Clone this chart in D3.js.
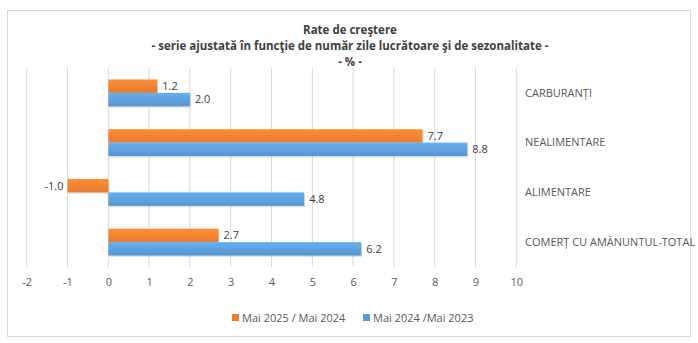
<!DOCTYPE html>
<html>
<head>
<meta charset="utf-8">
<script src="https://cdn.jsdelivr.net/npm/d3@7"></script>
<style>
  body { margin: 0; background: #fff; }
  svg { font-family: "Open Sans", "Liberation Sans", sans-serif; }
</style>
</head>
<body>
<div id="chart"></div>
<script>
const categories = ["CARBURANȚI", "NEALIMENTARE", "ALIMENTARE", "COMERȚ CU AMĂNUNTUL-TOTAL"];
const seriesNames = ["Mai 2025 / Mai 2024", "Mai 2024 /Mai 2023"];
const values2025 = [1.2, 7.7, -1.0, 2.7];
const values2024 = [2.0, 8.8, 4.8, 6.2];
const xTicks = [-2, -1, 0, 1, 2, 3, 4, 5, 6, 7, 8, 9, 10];
const titleLines = [
    "Rate de creştere",
    "- serie ajustată în funcţie de număr zile lucrătoare şi de sezonalitate -",
    "- % -"
];

const W = 698, H = 343;
const plot = { left: 26.7, right: 516.3, top: 68, bottom: 267 };
const colors = ["#ED7D31", "#5B9BD5"];

// excel style: plain hyphen for negatives
const fmtTick = d => String(d);
const fmtVal = d => d.toFixed(1);

const svg = d3.select("#chart").append("svg")
    .attr("width", W)
    .attr("height", H);

const defs = svg.append("defs");
colors.forEach((c, i) => {
    const g = defs.append("linearGradient")
        .attr("id", "grad" + i)
        .attr("x1", 0).attr("y1", 0).attr("x2", 0).attr("y2", 1);
    g.append("stop").attr("offset", "0%").attr("stop-color", d3.color(c).brighter(0.35));
    g.append("stop").attr("offset", "100%").attr("stop-color", d3.color(c).darker(0.1));
});

// chart border
svg.append("rect")
    .attr("x", 7.5).attr("y", 10.5)
    .attr("width", 683).attr("height", 326)
    .attr("fill", "#fff")
    .attr("stroke", "#d9d9d9");

// title
svg.selectAll(".title")
    .data(titleLines)
    .enter().append("text")
    .attr("class", "title")
    .attr("x", 350)
    .attr("y", (d, i) => 34 + i * 16)
    .attr("text-anchor", "middle")
    .style("font-size", "11.5px")
    .style("font-weight", "bold")
    .attr("fill", "#404040")
    .text(d => d);

const x = d3.scaleLinear()
    .domain([-2, 10])
    .range([plot.left, plot.right]);

const y = d3.scaleBand()
    .domain(categories)
    .range([plot.top, plot.bottom])
    .paddingInner(0.46)
    .paddingOuter(0.23);

const ySub = d3.scaleBand()
    .domain([0, 1])
    .range([0, y.bandwidth()]);

// gridlines
svg.append("g")
    .selectAll("line")
    .data(xTicks)
    .enter().append("line")
    .attr("x1", d => x(d)).attr("x2", d => x(d))
    .attr("y1", plot.top).attr("y2", plot.bottom)
    .attr("stroke", "#d9d9d9")
    .attr("stroke-width", 1);

// x axis labels
svg.append("g")
    .attr("transform", `translate(0,${plot.bottom})`)
    .call(d3.axisBottom(x).tickValues(xTicks).tickSize(0).tickPadding(11).tickFormat(fmtTick))
    .call(g => g.select(".domain").remove())
    .call(g => g.selectAll("text")
        .style("font-size", "11px")
        .style("font-family", "\"Open Sans\", sans-serif")
        .attr("fill", "#595959"));

const rows = categories.map((c, i) => ({ cat: c, vals: [values2025[i], values2024[i]] }));

const groups = svg.selectAll(".grp")
    .data(rows)
    .enter().append("g")
    .attr("class", "grp")
    .attr("transform", d => `translate(0,${y(d.cat)})`);

const bars = groups.selectAll(".bar")
    .data(d => d.vals.map((v, k) => ({ v, k })))
    .enter().append("g");

bars.append("rect")
    .attr("x", d => x(Math.min(0, d.v)) + 1)
    .attr("y", d => ySub(d.k) + 1.5)
    .attr("width", d => Math.abs(x(d.v) - x(0)))
    .attr("height", ySub.bandwidth())
    .attr("fill", "#000")
    .attr("opacity", 0.12);

bars.append("rect")
    .attr("x", d => x(Math.min(0, d.v)))
    .attr("y", d => ySub(d.k))
    .attr("width", d => Math.abs(x(d.v) - x(0)))
    .attr("height", ySub.bandwidth())
    .attr("fill", d => `url(#grad${d.k})`);

bars.append("text")
    .attr("x", d => d.v < 0 ? x(d.v) - 4 : x(d.v) + 5)
    .attr("y", d => ySub(d.k) + ySub.bandwidth() / 2)
    .attr("dy", "0.35em")
    .attr("text-anchor", d => d.v < 0 ? "end" : "start")
    .style("font-size", "11px")
    .attr("fill", "#404040")
    .text(d => fmtVal(d.v));

// category labels on the right
svg.selectAll(".cat")
    .data(categories)
    .enter().append("text")
    .attr("class", "cat")
    .attr("x", 525)
    .attr("y", d => y(d) + y.bandwidth() / 2)
    .attr("dy", "0.35em")
    .style("font-size", "11px")
    .attr("fill", "#595959")
    .text(d => d);

// legend
const legendX = [232, 363];
const legend = svg.selectAll(".leg")
    .data(seriesNames)
    .enter().append("g")
    .attr("class", "leg")
    .attr("transform", (d, i) => `translate(${legendX[i]},318)`);

legend.append("rect")
    .attr("x", 0).attr("y", -4)
    .attr("width", 7).attr("height", 7)
    .attr("fill", (d, i) => colors[i]);

legend.append("text")
    .attr("x", 10)
    .attr("y", 0)
    .attr("dy", "0.35em")
    .style("font-size", "11px")
    .attr("fill", "#595959")
    .text(d => d);
</script>
</body>
</html>
